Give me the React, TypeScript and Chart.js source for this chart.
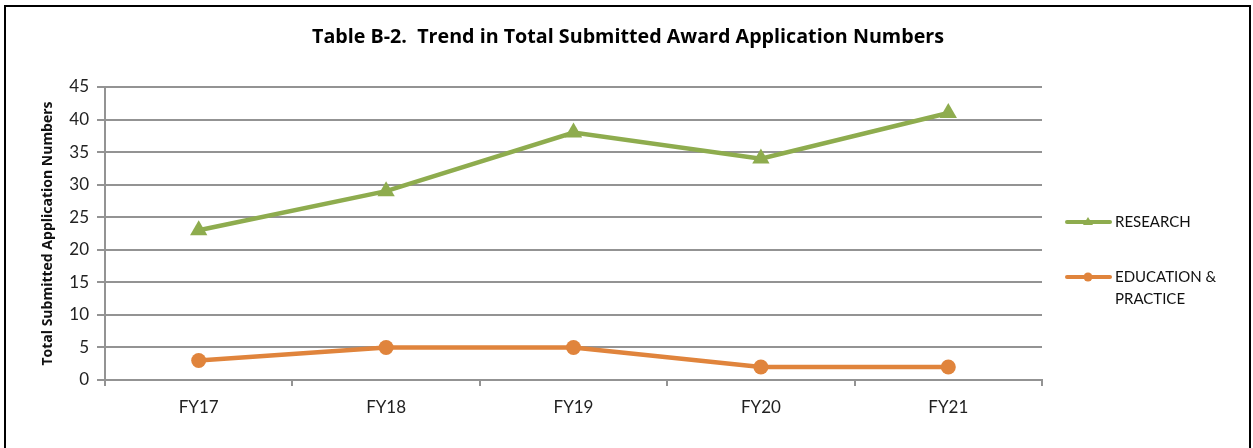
import React, { useEffect, useRef } from "react";
import { Chart, registerables } from "chart.js";

Chart.register(...registerables);

const categories = ["FY17", "FY18", "FY19", "FY20", "FY21"];
const researchValues = [23, 29, 38, 34, 41];
const educationValues = [3, 5, 5, 2, 2];
const seriesNames = ["RESEARCH", "EDUCATION & PRACTICE"];
const legendLines = [["RESEARCH"], ["EDUCATION &", "PRACTICE"]];
const titleText = "Table B-2.  Trend in Total Submitted Award Application Numbers";
const yTitle = "Total Submitted Application Numbers";

const GREEN = "#8eac4e";
const ORANGE = "#e0843c";
const GRID = "#939393";
const FONT = "Lato, 'Open Sans', sans-serif";
const BOLD_FONT = "'Open Sans', Lato, sans-serif";

const overlayPlugin = {
  id: "overlay",
  afterDraw(chart: any) {
    const ctx = chart.ctx;
    ctx.save();
    // Title
    ctx.fillStyle = "#000";
    ctx.font = `bold 19.7px ${BOLD_FONT}`;
    ctx.textAlign = "center";
    ctx.textBaseline = "middle";
    ctx.fillText(titleText, 628, 37);

    // Legend
    const items = [
      { color: GREEN, style: "triangle", y: 222 },
      { color: ORANGE, style: "circle", y: 277 },
    ];
    items.forEach((it, i) => {
      ctx.strokeStyle = it.color;
      ctx.lineWidth = 4;
      ctx.lineCap = "round";
      ctx.beginPath();
      ctx.moveTo(1067, it.y);
      ctx.lineTo(1110, it.y);
      ctx.stroke();
      ctx.fillStyle = it.color;
      ctx.beginPath();
      if (it.style === "circle") {
        ctx.arc(1088, it.y, 4.5, 0, Math.PI * 2);
      } else {
        ctx.moveTo(1088, it.y - 5);
        ctx.lineTo(1093, it.y + 3);
        ctx.lineTo(1083, it.y + 3);
        ctx.closePath();
      }
      ctx.fill();
      ctx.fillStyle = "#111";
      ctx.font = `15px ${FONT}`;
      ctx.textAlign = "left";
      ctx.textBaseline = "middle";
      legendLines[i].forEach((line, j) => {
        ctx.fillText(line, 1115, it.y + j * 22);
      });
    });
    ctx.restore();
  },
};

export default function App() {
  const ref = useRef<HTMLCanvasElement>(null);
  useEffect(() => {
    document.body.style.margin = "0";
    const chart = new Chart(ref.current!, {
      type: "line",
      data: {
        labels: categories,
        datasets: [
          {
            label: seriesNames[0],
            data: researchValues,
            borderColor: GREEN,
            backgroundColor: GREEN,
            borderWidth: 4.5,
            pointStyle: "triangle",
            pointRadius: 10,
            pointBorderWidth: 0,
            pointBackgroundColor: GREEN,
            tension: 0,
          },
          {
            label: seriesNames[1],
            data: educationValues,
            borderColor: ORANGE,
            backgroundColor: ORANGE,
            borderWidth: 4.5,
            pointStyle: "circle",
            pointRadius: 7.5,
            pointBorderWidth: 0,
            pointBackgroundColor: ORANGE,
            tension: 0,
          },
        ],
      },
      options: {
        responsive: false,
        animation: false,
        layout: { padding: { left: 40, top: 87, right: 1253 - 1042, bottom: 28 } },
        plugins: {
          legend: { display: false },
          title: { display: false },
          tooltip: { enabled: false },
        },
        scales: {
          x: {
            offset: true,
            afterFit(scale: any) {
              scale.height = 40;
            },
            grid: {
              offset: true,
              drawOnChartArea: false,
              drawTicks: true,
              tickLength: 6,
              color: GRID,
              lineWidth: 2,
            },
            border: { display: true, color: GRID, width: 2 },
            ticks: {
              color: "#222",
              font: { family: FONT, size: 17 },
              padding: 11,
              maxRotation: 0,
            },
          },
          y: {
            min: 0,
            max: 45,
            afterFit(scale: any) {
              scale.width = 65;
            },
            grid: {
              color: GRID,
              lineWidth: 2,
              tickLength: 8,
              drawTicks: true,
            },
            border: { display: true, color: GRID, width: 2 },
            ticks: {
              stepSize: 5,
              color: "#222",
              font: { family: FONT, size: 17 },
              padding: 8,
            },
            title: {
              display: true,
              text: yTitle,
              color: "#111",
              font: { family: BOLD_FONT, size: 14, weight: "bold" },
              padding: { top: 0, bottom: 0 },
            },
          },
        },
      },
      plugins: [overlayPlugin],
    });
    return () => chart.destroy();
  }, []);

  return (
    <div style={{ position: "relative", width: 1253, height: 448, overflow: "hidden", background: "#fff" }}>
      <canvas ref={ref} width={1253} height={448} style={{ display: "block" }} />
      <div
        style={{
          position: "absolute",
          left: 4,
          top: 5,
          width: 1243,
          height: 480,
          border: "2px solid #000",
          pointerEvents: "none",
        }}
      />
    </div>
  );
}
